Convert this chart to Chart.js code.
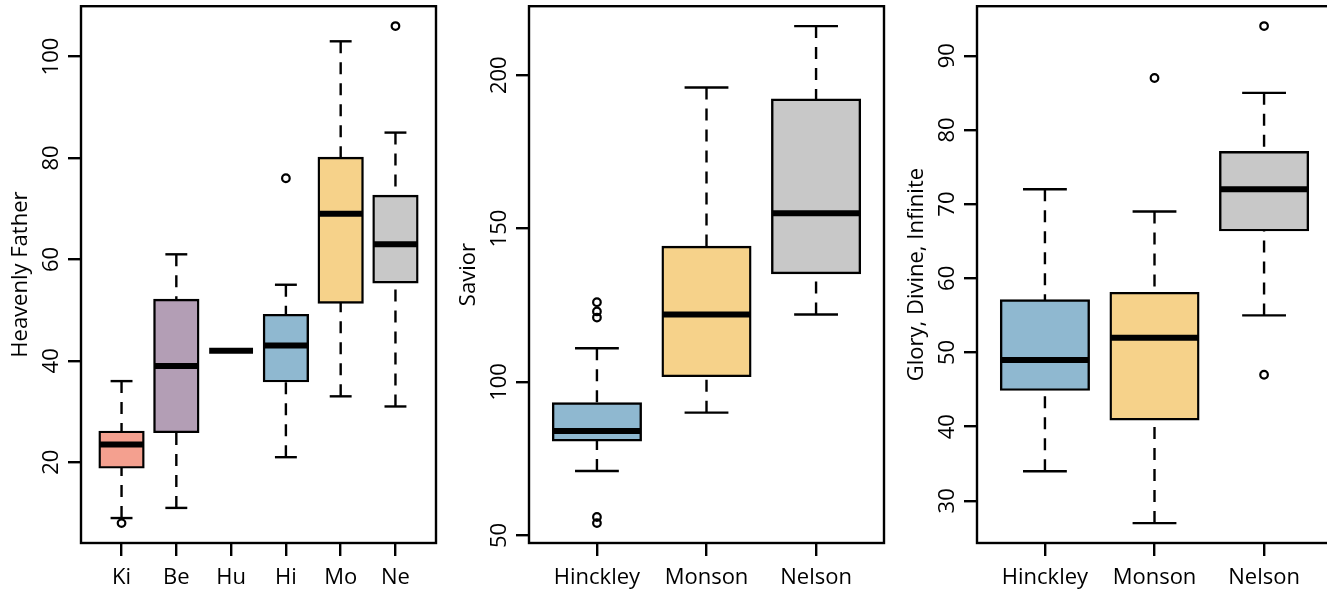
<!DOCTYPE html>
<html><head><meta charset="utf-8">
<script src="https://cdn.jsdelivr.net/npm/chart.js@4.4.1/dist/chart.umd.min.js"></script>
<style>
html,body{margin:0;padding:0;background:#fff;overflow:hidden;width:1327px;height:593px;}
#wrap{position:relative;width:1344px;height:593px;}
.panel{position:absolute;top:0;width:448px;height:593px;}
canvas{display:block;}
</style></head><body>
<div id="wrap">
<div class="panel" style="left:0px"><canvas id="c1" width="448" height="593"></canvas></div>
<div class="panel" style="left:448px"><canvas id="c2" width="448" height="593"></canvas></div>
<div class="panel" style="left:896px"><canvas id="c3" width="448" height="593"></canvas></div>
</div>
<script>
// ---- Panel 1: Heavenly Father ----
const p1Categories = ['Ki', 'Be', 'Hu', 'Hi', 'Mo', 'Ne'];
const p1Lower  = [9, 11, 42, 21, 33, 31];
const p1Q1     = [19, 26, 42, 36, 51.5, 55.5];
const p1Median = [23.5, 39, 42, 43, 69, 63];
const p1Q3     = [26, 52, 42, 49, 80, 72.5];
const p1Upper  = [36, 61, 42, 55, 103, 85];
const p1Outliers = [[8], [], [], [76], [], [106]];
const p1Colors = ['#F4A08F', '#B39EB5', '#FFFFFF', '#8FB8D0', '#F6D28A', '#C8C8C8'];
const p1YTicks = [20, 40, 60, 80, 100];
const p1Title = 'Heavenly Father';

// ---- Panel 2: Savior ----
const p2Categories = ['Hinckley', 'Monson', 'Nelson'];
const p2Lower  = [71, 90, 122];
const p2Q1     = [81, 102, 135.5];
const p2Median = [84, 122, 155];
const p2Q3     = [93, 144, 192];
const p2Upper  = [111, 196, 216];
const p2Outliers = [[54, 56, 121, 123, 126], [], []];
const p2Colors = ['#8FB8D0', '#F6D28A', '#C8C8C8'];
const p2YTicks = [50, 100, 150, 200];
const p2Title = 'Savior';

// ---- Panel 3: Glory, Divine, Infinite ----
const p3Categories = ['Hinckley', 'Monson', 'Nelson'];
const p3Lower  = [34, 27, 55];
const p3Q1     = [45, 41, 66.5];
const p3Median = [49, 52, 72];
const p3Q3     = [57, 58, 77];
const p3Upper  = [72, 69, 85];
const p3Outliers = [[], [87], [47, 94]];
const p3Colors = ['#8FB8D0', '#F6D28A', '#C8C8C8'];
const p3YTicks = [30, 40, 50, 60, 70, 80, 90];
const p3Title = 'Glory, Divine, Infinite';

const FONT_FAMILY = '"Open Sans", "Noto Sans", sans-serif';
const FONT_SIZE = 22;

function makePanel(id, cats, lower, q1, med, q3, upper, outl, colors, yTicks, yTitle) {
  const n = cats.length;
  const all = lower.concat(upper, outl.flat());
  const lo = Math.min(...all), hi = Math.max(...all);
  const ypad = (hi - lo) * 0.04;
  const xpad = n * 0.04;
  const boxData = cats.map((c, i) => ({x: i + 1, y: [q1[i], q3[i]]}));
  const outData = [];
  outl.forEach((arr, i) => arr.forEach(v => outData.push({x: i + 1, y: v})));

  const parts = {
    id: 'boxparts_' + id,
    afterDatasetsDraw(chart) {
      const ctx = chart.ctx, xs = chart.scales.x, ys = chart.scales.y;
      const meta = chart.getDatasetMeta(0);
      ctx.save();
      ctx.strokeStyle = '#000';
      ctx.lineCap = 'butt';
      for (let i = 0; i < n; i++) {
        const bw = meta.data[i].width;
        const cx = xs.getPixelForValue(i + 1);
        // whiskers (dashed, starting at whisker end)
        ctx.lineWidth = 2.4;
        ctx.setLineDash([12, 9]);
        if (lower[i] < q1[i]) {
          ctx.beginPath(); ctx.moveTo(cx, ys.getPixelForValue(lower[i])); ctx.lineTo(cx, ys.getPixelForValue(q1[i])); ctx.stroke();
        }
        if (upper[i] > q3[i]) {
          ctx.beginPath(); ctx.moveTo(cx, ys.getPixelForValue(upper[i])); ctx.lineTo(cx, ys.getPixelForValue(q3[i])); ctx.stroke();
        }
        ctx.setLineDash([]);
        // staples
        [lower[i], upper[i]].forEach(v => {
          const py = ys.getPixelForValue(v);
          ctx.beginPath(); ctx.moveTo(cx - bw / 4, py); ctx.lineTo(cx + bw / 4, py); ctx.stroke();
        });
        // median
        ctx.lineWidth = 6;
        const pm = ys.getPixelForValue(med[i]);
        ctx.beginPath(); ctx.moveTo(cx - bw / 2, pm); ctx.lineTo(cx + bw / 2, pm); ctx.stroke();
      }
      ctx.restore();
    },
    afterDraw(chart) {
      const ctx = chart.ctx, ys = chart.scales.y, a = chart.chartArea;
      ctx.save();
      // frame
      ctx.strokeStyle = '#000'; ctx.lineWidth = 2.4;
      ctx.strokeRect(a.left, a.top, a.right - a.left, a.bottom - a.top);
      // y tick labels (rotated, like R)
      ctx.fillStyle = '#000';
      ctx.font = FONT_SIZE + 'px ' + FONT_FAMILY;
      ctx.textAlign = 'center'; ctx.textBaseline = 'alphabetic';
      yTicks.forEach(v => {
        const py = ys.getPixelForValue(v);
        ctx.save(); ctx.translate(a.left - 23, py); ctx.rotate(-Math.PI / 2);
        ctx.fillText(String(v), 0, 0); ctx.restore();
      });
      // y title
      ctx.save(); ctx.translate(27, (a.top + a.bottom) / 2); ctx.rotate(-Math.PI / 2);
      ctx.fillText(yTitle, 0, 0); ctx.restore();
      ctx.restore();
    }
  };

  const gridOpts = {offset: false, drawOnChartArea: false, drawTicks: true, tickLength: 13, tickWidth: 2.4,
                    tickColor: '#000', color: '#000', lineWidth: 2.4};

  return new Chart(document.getElementById(id), {
    type: 'bar',
    data: {datasets: [
      {type: 'bar', data: boxData, backgroundColor: colors, borderColor: '#000', borderWidth: 2.4,
       borderSkipped: false, inflateAmount: 1.2, categoryPercentage: 1, barPercentage: 0.8, order: 2},
      {type: 'scatter', data: outData, pointStyle: 'circle', pointRadius: 3.8, pointBorderWidth: 2.2,
       pointBorderColor: '#000', pointBackgroundColor: 'rgba(0,0,0,0)', showLine: false, order: 1}
    ]},
    options: {
      responsive: false, animation: false, devicePixelRatio: 1, events: [],
      layout: {padding: {top: 4, right: 12, left: 0, bottom: 0}},
      plugins: {legend: {display: false}, tooltip: {enabled: false}},
      scales: {
        x: {type: 'linear', min: 0.5 - xpad, max: n + 0.5 + xpad, offset: false,
            afterBuildTicks: s => { s.ticks = cats.map((c, i) => ({value: i + 1})); },
            afterFit: s => { s.height = 50; },
            ticks: {callback: v => cats[Math.round(v) - 1], font: {family: FONT_FAMILY, size: FONT_SIZE},
                    color: '#000', padding: 9, maxRotation: 0, minRotation: 0, autoSkip: false},
            grid: gridOpts, border: {display: false}},
        y: {type: 'linear', min: lo - ypad, max: hi + ypad,
            afterBuildTicks: s => { s.ticks = yTicks.map(v => ({value: v})); },
            afterFit: s => { s.width = 81; },
            ticks: {display: false},
            grid: gridOpts, border: {display: false}}
      }
    },
    plugins: [parts]
  });
}

makePanel('c1', p1Categories, p1Lower, p1Q1, p1Median, p1Q3, p1Upper, p1Outliers, p1Colors, p1YTicks, p1Title);
makePanel('c2', p2Categories, p2Lower, p2Q1, p2Median, p2Q3, p2Upper, p2Outliers, p2Colors, p2YTicks, p2Title);
makePanel('c3', p3Categories, p3Lower, p3Q1, p3Median, p3Q3, p3Upper, p3Outliers, p3Colors, p3YTicks, p3Title);
</script>
</body></html>
